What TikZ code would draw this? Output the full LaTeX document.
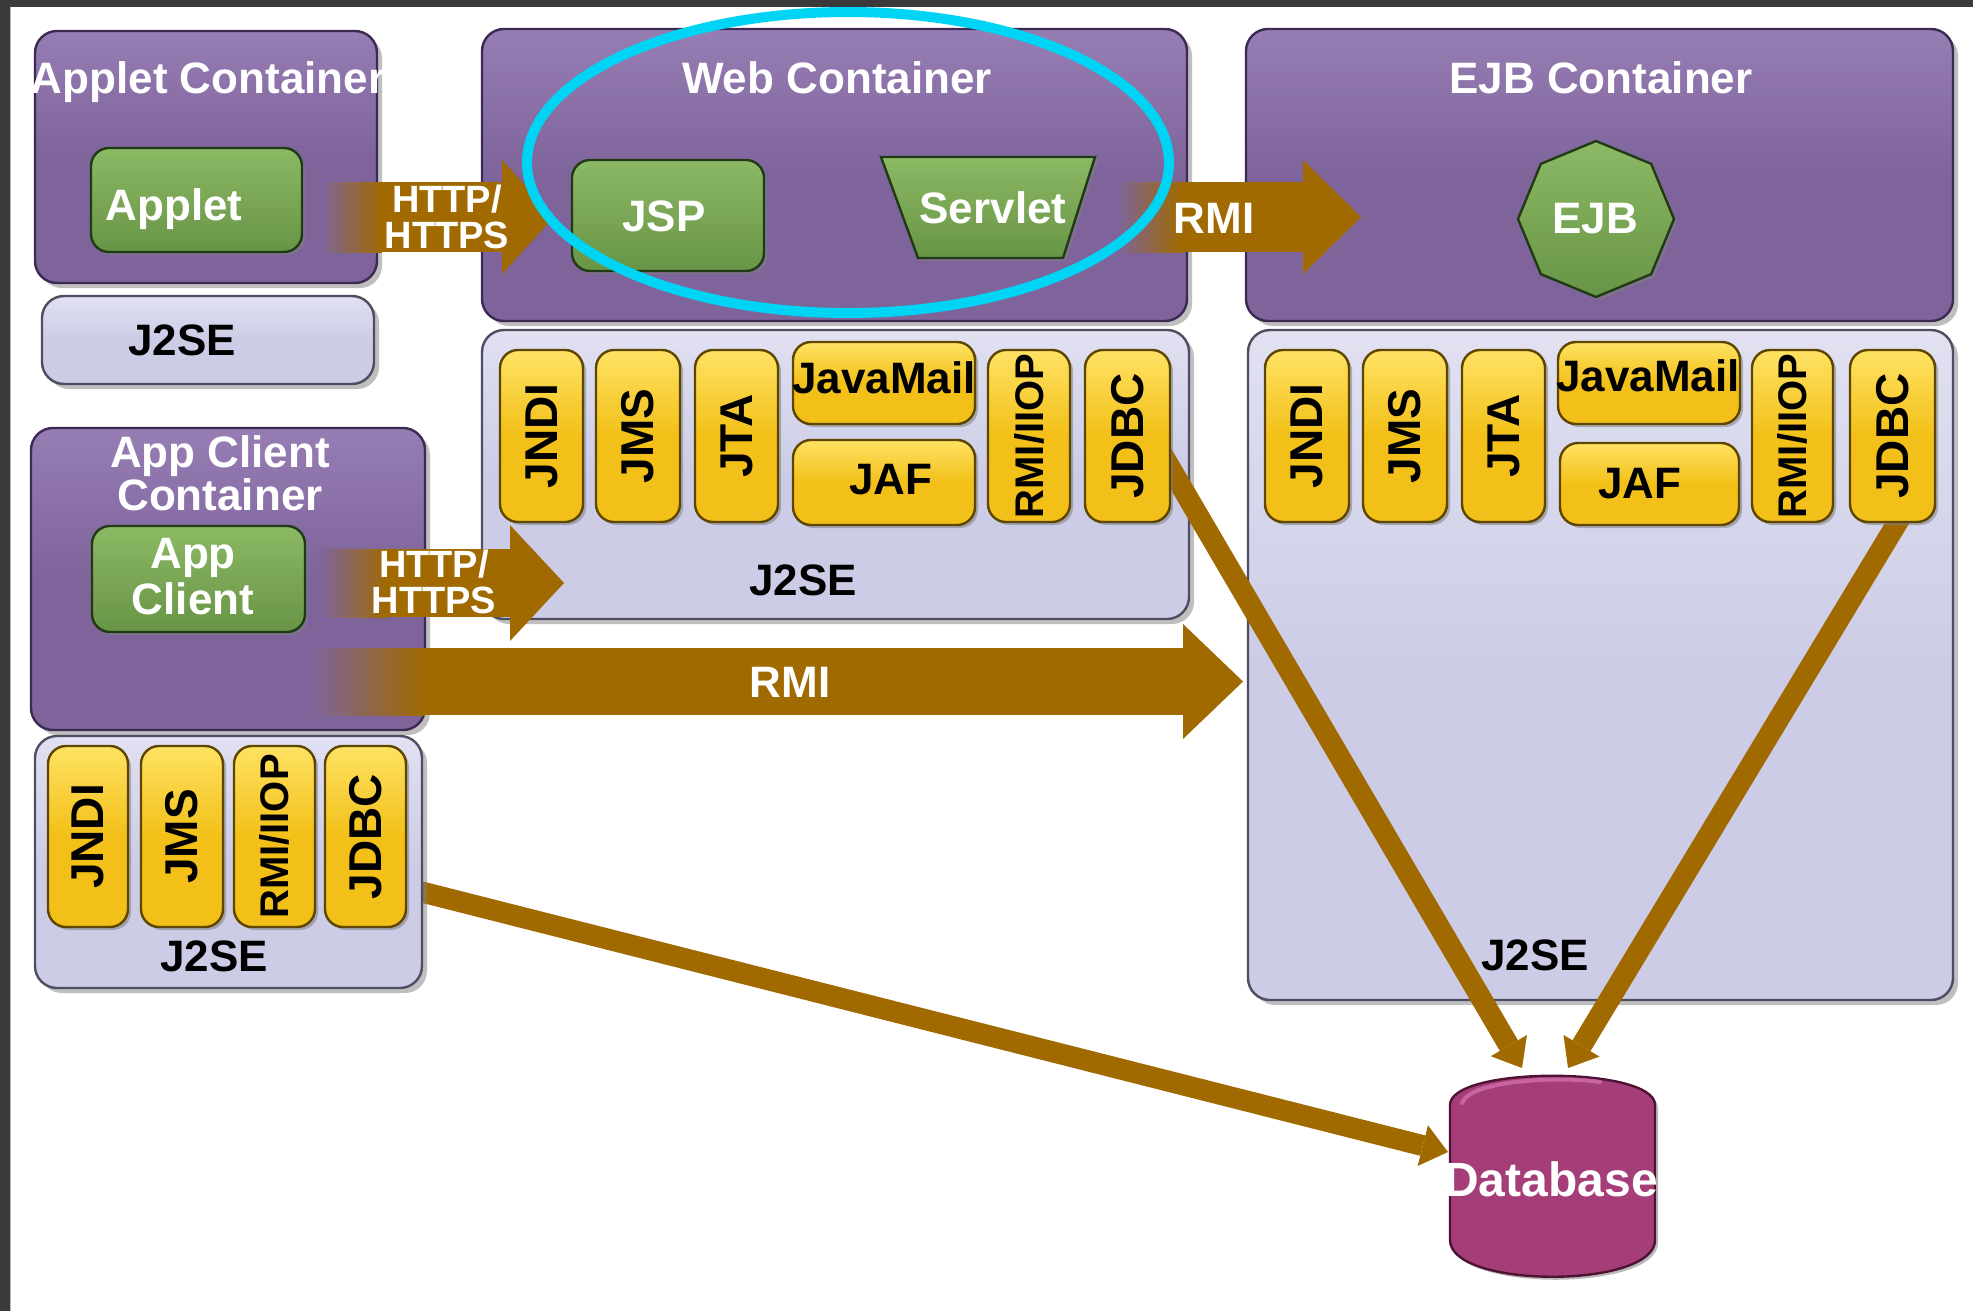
\documentclass[tikz,border=0pt]{standalone}
\usepackage{fontspec}
\setmainfont{Liberation Sans}
\usetikzlibrary{fit,shapes.geometric,shadows,arrows.meta}

\definecolor{purpleC}{RGB}{126,100,155}
\definecolor{purpleL}{RGB}{150,125,180}
\definecolor{purpleD}{RGB}{60,42,82}
\definecolor{lavC}{RGB}{204,204,230}
\definecolor{lavL}{RGB}{225,225,242}
\definecolor{lavD}{RGB}{78,78,98}
\definecolor{greenC}{RGB}{104,148,70}
\definecolor{greenL}{RGB}{140,185,100}
\definecolor{greenD}{RGB}{32,58,22}
\definecolor{yelC}{RGB}{242,192,24}
\definecolor{yelL}{RGB}{255,226,100}
\definecolor{yelD}{RGB}{95,70,0}
\definecolor{dbC}{RGB}{165,62,120}
\definecolor{dbL}{RGB}{200,100,160}
\definecolor{dbD}{RGB}{78,18,52}
\definecolor{brownC}{RGB}{160,106,0}
\definecolor{cyanC}{RGB}{0,212,245}
\definecolor{frameC}{RGB}{58,58,58}

\tikzset{
  shadowA/.style={drop shadow={opacity=0.5,shadow xshift=2.5pt,shadow yshift=-2.5pt}},
  shadowB/.style={drop shadow={opacity=0.55,shadow xshift=1.5pt,shadow yshift=-1.5pt}},
  boxbase/.style={inner sep=0pt, outer sep=0pt, rounded corners=11pt, line width=1.2pt},
  container/.style={boxbase, draw=purpleD, top color=purpleL, bottom color=purpleC, middle color=purpleC, shadowA},
  j2sebox/.style={boxbase, draw=lavD, top color=lavL, bottom color=lavC, middle color=lavC, shadowA},
  greenbox/.style={boxbase, rounded corners=9pt, draw=greenD, top color=greenL, bottom color=greenC, shadowB},
  greenshape/.style={draw=greenD, line width=1.2pt, top color=greenL, bottom color=greenC, shadowB},
  pill/.style={boxbase, rounded corners=9pt, draw=yelD, top color=yelL, bottom color=yelC, middle color=yelC, shadowB},
  dbshape/.style={draw=dbD, line width=1.2pt, fill=dbC, shadowB},
  titletext/.style={text=white, font=\fontsize{22}{20.5}\selectfont\bfseries, align=center, inner sep=0pt},
  gtext/.style={text=white, font=\fontsize{22}{22}\selectfont\bfseries, align=center, inner sep=0pt},
  jtext/.style={text=black, font=\fontsize{22}{22}\selectfont\bfseries, inner sep=0pt},
  ptext/.style={text=black, font=\fontsize{23}{23}\selectfont\bfseries, inner sep=0pt},
  pmid/.style={text=black, font=\fontsize{22}{22}\selectfont\bfseries, inner sep=0pt},
  psmall/.style={text=black, font=\fontsize{20}{20}\selectfont\bfseries, inner sep=0pt},
  arrowtext/.style={text=white, font=\fontsize{19}{18}\selectfont\bfseries, align=center, inner sep=0pt},
  rmitext/.style={text=white, font=\fontsize{22}{22}\selectfont\bfseries, inner sep=0pt},
  blockarrow/.style={draw=brownC, line width=35pt, -{Triangle[length=26pt,width=57pt,line width=0pt]}},
  thinarrow/.style={draw=brownC, line width=10.5pt, -{Triangle[length=13pt,width=21pt,line width=0pt]}},
}

\newcommand\vpill[7]{%
  \node[pill, fit={(#2,#3)(#4,#5)}] (#1) {};
  \node[#6, rotate=90] at (#1.center) {#7};}

\begin{document}
\begin{tikzpicture}[x=0.5pt,y=-0.5pt]
\useasboundingbox (0,0) rectangle (1973,1311);
\fill[white] (0,0) rectangle (1973,1311);
\fill[frameC] (0,0) rectangle (1973,7);
\fill[frameC] (0,0) rectangle (10,1311);
\draw[gray!55, line width=0.8pt] (10.5,7) -- (10.5,1311);

% database
\path[dbshape] (1450,1105) .. controls (1450,1066) and (1655,1066) .. (1655,1105)
   -- (1655,1240) .. controls (1655,1289) and (1450,1289) .. (1450,1240) -- cycle;
\draw[dbL, line width=2pt, line cap=round] (1462,1103) .. controls (1470,1080) and (1560,1076) .. (1600,1082);
\node[fit={(1450,1076)(1655,1277)}, inner sep=0pt] (db) {};

% client JDBC to database (under the client J2SE box)
\coordinate (aJout) at (410,889);
\coordinate (dbLeft) at (1448,1152);
\draw[thinarrow] (aJout) -- (dbLeft);

% containers
\node[container, fit={(35,31)(377,283)}] (appletC) {};
\node[j2sebox, fit={(42,296)(374,384)}] (appletJ) {};
\node[container, fit={(482,29)(1187,321)}] (webC) {};
\node[j2sebox, fit={(482,330)(1189,619)}] (webJ) {};
\node[container, fit={(1246,29)(1953,321)}] (ejbC) {};
\node[j2sebox, fit={(1248,330)(1953,1000)}] (ejbJ) {};
\node[container, fit={(31,428)(425,730)}] (appC) {};
\node[j2sebox, fit={(35,736)(422,988)}] (appJ) {};

% JDBC lines to database
\coordinate (wJout) at (1154,440);
\coordinate (dbTopL) at (1522,1068);
\coordinate (eJout) at (1911,500);
\coordinate (dbTopR) at (1568,1068);
\draw[thinarrow] (wJout) -- (dbTopL);
\draw[thinarrow] (eJout) -- (dbTopR);

% block arrows
\shade[left color=purpleC, right color=brownC] (321,182) rectangle (382,252);
\coordinate (h1a) at (380,217); \coordinate (h1b) at (554,217);
\draw[blockarrow] (h1a) -- (h1b);

\shade[left color=purpleC, right color=brownC] (1118,182) rectangle (1182,252);
\coordinate (r1a) at (1180,217); \coordinate (r1b) at (1361,217);
\draw[blockarrow, -{Triangle[length=29pt,width=57pt,line width=0pt]}] (r1a) -- (r1b);

\shade[left color=purpleC, right color=brownC] (321,549) rectangle (387,617);
\coordinate (h2a) at (385,583); \coordinate (h2b) at (564,583);
\draw[blockarrow, line width=34pt, -{Triangle[length=27pt,width=58pt,line width=0pt]}] (h2a) -- (h2b);

\shade[left color=purpleC, right color=brownC] (312,648) rectangle (425,715);
\coordinate (r2a) at (423,681.5); \coordinate (r2b) at (1243,681.5);
\draw[blockarrow, line width=33.5pt, -{Triangle[length=30pt,width=57.5pt,line width=0pt]}] (r2a) -- (r2b);

% green components
\node[greenbox, fit={(91,148)(302,252)}] (appletG) {};
\node[greenbox, fit={(572,160)(764,271)}] (jspG) {};
\node[greenbox, fit={(92,526)(305,632)}] (appG) {};
\path[greenshape] (881,157) -- (1095,157) -- (1063,258) -- (918,258) -- cycle;
\node[regular polygon, regular polygon sides=8, shape border rotate=22.5,
      minimum size=78pt, inner sep=0pt, draw=greenD, line width=1.2pt,
      top color=greenL, bottom color=greenC, shadowB] (ejbG) at (1596,219) {};

% web J2SE services
\vpill{wJNDI}{500}{350}{583}{522}{ptext}{JNDI}
\vpill{wJMS}{596}{350}{680}{522}{ptext}{JMS}
\vpill{wJTA}{695}{350}{778}{522}{ptext}{JTA}
\node[pill, fit={(793,342)(975,424)}] (wMail) {};
\node[pmid] at (884,378) {JavaMail};
\node[pill, fit={(793,440)(975,525)}] (wJAF) {};
\node[pmid] at (891,480) {JAF};
\vpill{wRMI}{988}{350}{1070}{522}{psmall}{RMI/IIOP}
\vpill{wJDBC}{1085}{350}{1170}{522}{ptext}{JDBC}

% EJB J2SE services
\vpill{eJNDI}{1265}{350}{1349}{522}{ptext}{JNDI}
\vpill{eJMS}{1363}{350}{1447}{522}{ptext}{JMS}
\vpill{eJTA}{1462}{350}{1545}{522}{ptext}{JTA}
\node[pill, fit={(1558,342)(1740,424)}] (eMail) {};
\node[pmid] at (1648,376) {JavaMail};
\node[pill, fit={(1560,443)(1739,525)}] (eJAF) {};
\node[pmid] at (1640,484) {JAF};
\vpill{eRMI}{1752}{350}{1833}{522}{psmall}{RMI/IIOP}
\vpill{eJDBC}{1850}{350}{1935}{522}{ptext}{JDBC}

% client J2SE services
\vpill{aJNDI}{48}{746}{128}{927}{ptext}{JNDI}
\vpill{aJMS}{141}{746}{223}{927}{ptext}{JMS}
\vpill{aRMI}{234}{746}{315}{927}{psmall}{RMI/IIOP}
\vpill{aJDBC}{325}{746}{406}{927}{ptext}{JDBC}

% titles
\node[titletext, anchor=base] at (208,94) {Applet Container};
\node[titletext, anchor=base] at (837,94) {Web Container};
\node[titletext, anchor=base] at (1601,94) {EJB Container};
\node[titletext] at (220,473) {App Client\\Container};

% component labels
\node[gtext, anchor=base] at (174,220) {Applet};
\node[gtext] at (664,216) {JSP};
\node[gtext] (servlet) at (993,208) {Servlet};
\node[gtext] at (1595,219) {EJB};
\node[gtext, font=\fontsize{22}{23}\selectfont\bfseries] at (193,577) {App\\Client};
\node[gtext, font=\fontsize{24}{24}\selectfont\bfseries] at (1551,1179) {Database};

% J2SE labels
\node[jtext] at (182,340) {J2SE};
\node[jtext] at (803,580) {J2SE};
\node[jtext] at (1535,955) {J2SE};
\node[jtext] at (214,956) {J2SE};

% arrow labels
\node[arrowtext] at (447,217) {HTTP/\\HTTPS};
\node[arrowtext] at (434,582) {HTTP/\\HTTPS};
\node[rmitext] at (1214,218) {RMI};
\node[rmitext] at (790,682) {RMI};

% highlight ellipse
\draw[cyanC, line width=5pt] (848,162.5) ellipse [x radius=321, y radius=150.5];
\end{tikzpicture}
\end{document}
